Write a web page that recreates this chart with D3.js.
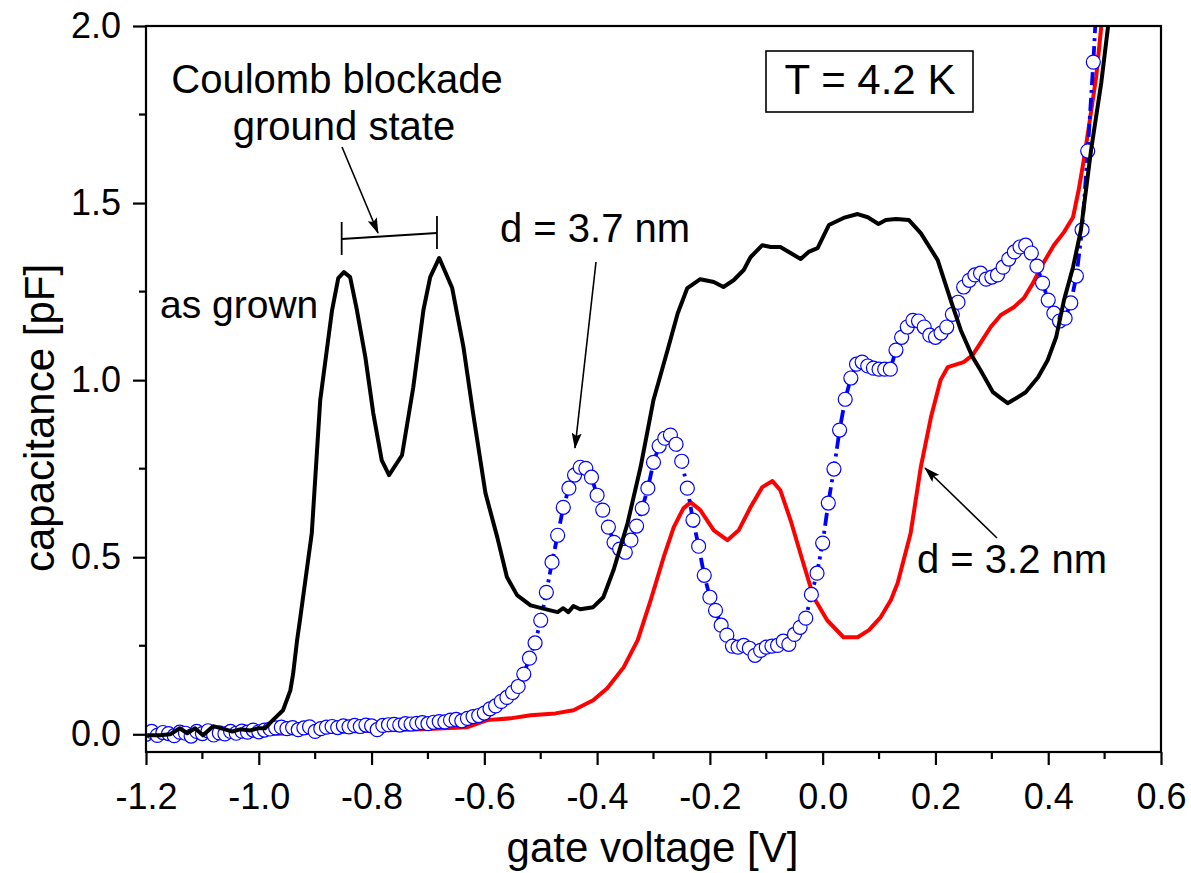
<!DOCTYPE html>
<html>
<head>
<meta charset="utf-8">
<script src="https://cdn.jsdelivr.net/npm/d3@7/dist/d3.min.js"></script>
<style>
  html, body { margin: 0; padding: 0; background: #fff; }
  svg { display: block; }
  text { font-family: "Liberation Sans", Arial, sans-serif; fill: #000; }
</style>
</head>
<body>
<svg id="chart" width="1191" height="873"></svg>
<script>
// ---- as grown sample (black) ----
const grownVoltage = [
  -1.198, -1.175, -1.157, -1.140, -1.127, -1.113, -1.099, -1.081, -1.060, -1.047,
  -1.033, -1.015, -1.001, -0.989, -0.975, -0.957, -0.944, -0.939, -0.932, -0.927,
  -0.906, -0.891, -0.870, -0.859, -0.849, -0.838, -0.826, -0.811, -0.797, -0.782,
  -0.769, -0.746, -0.726, -0.708, -0.696, -0.680, -0.657, -0.637, -0.620, -0.598,
  -0.577, -0.560, -0.542, -0.518, -0.483, -0.470, -0.460, -0.451, -0.442, -0.430,
  -0.407, -0.389, -0.371, -0.346, -0.323, -0.300, -0.275, -0.257, -0.240, -0.217,
  -0.193, -0.176, -0.158, -0.140, -0.128, -0.107, -0.092, -0.075, -0.057, -0.039,
  -0.025, -0.009, 0.011, 0.037, 0.062, 0.080, 0.099, 0.112, 0.130, 0.153,
  0.174, 0.204, 0.227, 0.245, 0.266, 0.280, 0.302, 0.316, 0.328, 0.343,
  0.360, 0.382, 0.399, 0.414, 0.428, 0.444, 0.458, 0.476, 0.494, 0.506, 0.515
];
const grownCap = [
  -0.003, -0.003, 0.000, 0.017, 0.003, 0.017, -0.003, 0.023, 0.014, 0.008,
  0.014, 0.011, 0.017, 0.017, 0.040, 0.068, 0.124, 0.172, 0.266, 0.322,
  0.568, 0.944, 1.198, 1.288, 1.305, 1.291, 1.198, 1.065, 0.907, 0.774,
  0.732, 0.788, 0.980, 1.198, 1.291, 1.345, 1.260, 1.093, 0.907, 0.681,
  0.556, 0.444, 0.393, 0.364, 0.350, 0.345, 0.356, 0.345, 0.362, 0.353,
  0.359, 0.387, 0.463, 0.596, 0.754, 0.944, 1.085, 1.189, 1.260, 1.285,
  1.277, 1.263, 1.282, 1.311, 1.347, 1.381, 1.376, 1.376, 1.359, 1.342,
  1.362, 1.373, 1.438, 1.458, 1.469, 1.460, 1.441, 1.452, 1.455, 1.452,
  1.415, 1.339, 1.226, 1.141, 1.065, 1.028, 0.966, 0.949, 0.935, 0.949,
  0.966, 1.008, 1.056, 1.121, 1.226, 1.319, 1.424, 1.650, 1.839, 1.997, 2.100
];

// ---- d = 3.2 nm (red) ----
const d32Voltage = [
  -1.200, -1.100, -1.000, -0.950, -0.900, -0.800, -0.700, -0.630, -0.595, -0.554,
  -0.518, -0.474, -0.442, -0.407, -0.382, -0.353, -0.328, -0.305, -0.282, -0.264,
  -0.247, -0.234, -0.217, -0.193, -0.169, -0.149, -0.128, -0.107, -0.089, -0.075,
  -0.057, -0.036, -0.016, 0.008, 0.037, 0.062, 0.082, 0.103, 0.121, 0.133,
  0.156, 0.174, 0.192, 0.209, 0.222, 0.250, 0.266, 0.280, 0.298, 0.316,
  0.339, 0.357, 0.373, 0.387, 0.410, 0.428, 0.444, 0.454, 0.463, 0.472,
  0.485, 0.494, 0.500
];
const d32Cap = [
  0.000, 0.000, 0.000, 0.002, 0.005, 0.010, 0.015, 0.020, 0.040, 0.045,
  0.054, 0.059, 0.068, 0.096, 0.130, 0.189, 0.266, 0.379, 0.500, 0.585,
  0.638, 0.655, 0.633, 0.576, 0.548, 0.576, 0.641, 0.698, 0.715, 0.689,
  0.605, 0.492, 0.387, 0.322, 0.274, 0.274, 0.294, 0.331, 0.379, 0.427,
  0.568, 0.754, 0.895, 1.000, 1.037, 1.051, 1.071, 1.105, 1.150, 1.184,
  1.206, 1.232, 1.274, 1.319, 1.381, 1.418, 1.460, 1.537, 1.621, 1.715,
  1.856, 1.997, 2.100
];

// ---- d = 3.7 nm (blue, open circles) ----
const d37Voltage = [
  -1.20, -1.19, -1.18, -1.17, -1.16, -1.15, -1.14, -1.13, -1.12, -1.11,
  -1.10, -1.09, -1.08, -1.07, -1.06, -1.05, -1.04, -1.03, -1.02, -1.01,
  -1.00, -0.99, -0.98, -0.97, -0.96, -0.95, -0.94, -0.93, -0.92, -0.91,
  -0.90, -0.89, -0.88, -0.87, -0.86, -0.85, -0.84, -0.83, -0.82, -0.81,
  -0.80, -0.79, -0.78, -0.77, -0.76, -0.75, -0.74, -0.73, -0.72, -0.71,
  -0.70, -0.69, -0.68, -0.67, -0.66, -0.65, -0.64, -0.63, -0.62, -0.61,
  -0.60, -0.59, -0.58, -0.57, -0.56, -0.55, -0.54, -0.53, -0.52, -0.51,
  -0.50, -0.49, -0.48, -0.47, -0.46, -0.45, -0.44, -0.43, -0.42, -0.41,
  -0.40, -0.39, -0.38, -0.37, -0.36, -0.35, -0.34, -0.33, -0.32, -0.31,
  -0.30, -0.29, -0.28, -0.27, -0.26, -0.25, -0.24, -0.23, -0.22, -0.21,
  -0.20, -0.19, -0.18, -0.17, -0.16, -0.15, -0.14, -0.13, -0.12, -0.11,
  -0.10, -0.09, -0.08, -0.07, -0.06, -0.05, -0.04, -0.03, -0.02, -0.01,
  0.00, 0.01, 0.02, 0.03, 0.04, 0.05, 0.06, 0.07, 0.08, 0.09,
  0.10, 0.11, 0.12, 0.13, 0.14, 0.15, 0.16, 0.17, 0.18, 0.19,
  0.20, 0.21, 0.22, 0.23, 0.24, 0.25, 0.26, 0.27, 0.28, 0.29,
  0.30, 0.31, 0.32, 0.33, 0.34, 0.35, 0.36, 0.37, 0.38, 0.39,
  0.40, 0.41, 0.42, 0.43, 0.44, 0.45, 0.46, 0.47, 0.48, 0.49
];
const d37Cap = [
  0.000, 0.008, -0.003, 0.005, 0.002, -0.004, 0.006, 0.003, -0.005, 0.008,
  0.002, 0.010, -0.002, 0.004, 0.001, 0.008, 0.003, 0.009, 0.006, 0.012,
  0.007, 0.012, 0.015, 0.018, 0.020, 0.016, 0.019, 0.013, 0.018, 0.021,
  0.008, 0.016, 0.020, 0.022, 0.019, 0.024, 0.021, 0.025, 0.022, 0.026,
  0.024, 0.013, 0.025, 0.027, 0.028, 0.026, 0.030, 0.029, 0.031, 0.033,
  0.030, 0.034, 0.036, 0.035, 0.040, 0.042, 0.038, 0.045, 0.050, 0.053,
  0.060, 0.072, 0.080, 0.093, 0.104, 0.118, 0.135, 0.170, 0.215, 0.258,
  0.322, 0.401, 0.486, 0.562, 0.641, 0.695, 0.732, 0.754, 0.751, 0.726,
  0.675, 0.633, 0.585, 0.542, 0.523, 0.514, 0.548, 0.588, 0.638, 0.695,
  0.768, 0.814, 0.836, 0.845, 0.819, 0.771, 0.695, 0.605, 0.531, 0.449,
  0.387, 0.350, 0.308, 0.280, 0.249, 0.246, 0.251, 0.243, 0.223, 0.237,
  0.246, 0.249, 0.251, 0.263, 0.254, 0.282, 0.302, 0.328, 0.395, 0.455,
  0.540, 0.653, 0.749, 0.859, 0.946, 1.006, 1.045, 1.051, 1.040, 1.034,
  1.031, 1.031, 1.031, 1.085, 1.121, 1.150, 1.169, 1.167, 1.150, 1.127,
  1.121, 1.133, 1.150, 1.186, 1.220, 1.263, 1.282, 1.297, 1.302, 1.285,
  1.291, 1.297, 1.319, 1.342, 1.362, 1.376, 1.381, 1.359, 1.322, 1.274,
  1.226, 1.189, 1.167, 1.175, 1.218, 1.294, 1.424, 1.647, 1.898, 2.200
];

// ---- axes ----
const xMajorTicks = [-1.2, -1.0, -0.8, -0.6, -0.4, -0.2, 0.0, 0.2, 0.4, 0.6];
const xMinorTicks = [-1.1, -0.9, -0.7, -0.5, -0.3, -0.1, 0.1, 0.3, 0.5];
const yMajorTicks = [0.0, 0.5, 1.0, 1.5, 2.0];
const yMinorTicks = [0.25, 0.75, 1.25, 1.75];

(function draw() {
  const svg = d3.select("#chart");
  const plotL = 146, plotR = 1161, plotT = 26, plotB = 752;

  const x = d3.scaleLinear().domain([-1.2, 0.6]).range([plotL, plotR]);
  const y = d3.scaleLinear().domain([-0.05, 2.0]).range([plotB, plotT]);

  const defs = svg.append("defs");
  defs.append("clipPath").attr("id", "plotArea")
    .append("rect").attr("x", plotL).attr("y", plotT)
    .attr("width", plotR - plotL).attr("height", plotB - plotT);

  defs.append("marker")
    .attr("id", "arrowHead")
    .attr("viewBox", "0 0 16 10")
    .attr("refX", 15).attr("refY", 5)
    .attr("markerWidth", 16).attr("markerHeight", 10)
    .attr("markerUnits", "userSpaceOnUse")
    .attr("orient", "auto")
    .append("path").attr("d", "M0,0 L16,5 L0,10 L3,5 Z").attr("fill", "#000");

  const plot = svg.append("g").attr("clip-path", "url(#plotArea)");
  const line = d3.line().x(d => x(d[0])).y(d => y(d[1]));

  const red = d32Voltage.map((v, i) => [v, d32Cap[i]]);
  const blue = d37Voltage.map((v, i) => [v, d37Cap[i]]);
  const black = grownVoltage.map((v, i) => [v, grownCap[i]]);

  plot.append("path").datum(red)
    .attr("d", line).attr("fill", "none")
    .attr("stroke", "#ff0000").attr("stroke-width", 4)
    .attr("stroke-linejoin", "round");

  plot.append("path").datum(blue)
    .attr("d", line).attr("fill", "none")
    .attr("stroke", "#0000ff").attr("stroke-width", 3.8)
    .attr("stroke-dasharray", "13,5,3,5");

  plot.append("g").selectAll("circle").data(blue).join("circle")
    .attr("cx", d => x(d[0])).attr("cy", d => y(d[1]))
    .attr("r", 7)
    .attr("fill", "#fff").attr("stroke", "#0000ff").attr("stroke-width", 1.2);

  plot.append("path").datum(black)
    .attr("d", line).attr("fill", "none")
    .attr("stroke", "#000").attr("stroke-width", 4)
    .attr("stroke-linejoin", "round");

  // frame
  svg.append("rect").attr("x", plotL).attr("y", plotT)
    .attr("width", plotR - plotL).attr("height", plotB - plotT)
    .attr("fill", "none").attr("stroke", "#000").attr("stroke-width", 2.2);

  // bottom axis
  const xAxis = svg.append("g").attr("transform", `translate(0,${plotB})`)
    .call(d3.axisBottom(x).tickValues(xMajorTicks).tickSize(13).tickPadding(18));
  xAxis.append("g").selectAll("line").data(xMinorTicks).join("line")
    .attr("x1", d => x(d)).attr("x2", d => x(d)).attr("y1", 0).attr("y2", 7);

  // left axis
  const yAxis = svg.append("g").attr("transform", `translate(${plotL},0)`)
    .call(d3.axisLeft(y).tickValues(yMajorTicks).tickSize(13).tickPadding(12));
  yAxis.append("g").selectAll("line").data(yMinorTicks).join("line")
    .attr("x1", 0).attr("x2", -7).attr("y1", d => y(d)).attr("y2", d => y(d));

  const fmt = d => d3.format(".1f")(d).replace("\u2212", "-");
  [xAxis, yAxis].forEach(a => {
    a.select(".domain").remove();
    a.selectAll("line").attr("stroke", "#000").attr("stroke-width", 2.2);
    a.selectAll(".tick text").text(fmt)
      .attr("font-size", 36).attr("font-family", "Liberation Sans, Arial, sans-serif")
      .attr("fill", "#000");
  });

  // axis titles
  svg.append("text").attr("x", (plotL + plotR) / 2 - 1).attr("y", 862)
    .attr("text-anchor", "middle").attr("font-size", 42)
    .text("gate voltage [V]");
  svg.append("text")
    .attr("transform", "translate(54,418) rotate(-90)")
    .attr("text-anchor", "middle").attr("font-size", 42)
    .text("capacitance [pF]");

  // annotations
  svg.append("text").attr("x", 337).attr("y", 93).attr("text-anchor", "middle")
    .attr("font-size", 40).text("Coulomb blockade");
  svg.append("text").attr("x", 344).attr("y", 140).attr("text-anchor", "middle")
    .attr("font-size", 40).text("ground state");
  svg.append("text").attr("x", 160).attr("y", 318).attr("font-size", 39).text("as grown");
  svg.append("text").attr("x", 500).attr("y", 242).attr("font-size", 40).text("d = 3.7 nm");
  svg.append("text").attr("x", 917).attr("y", 573).attr("font-size", 40).text("d = 3.2 nm");

  svg.append("rect").attr("x", 766).attr("y", 51).attr("width", 207).attr("height", 61)
    .attr("fill", "#fff").attr("stroke", "#000").attr("stroke-width", 1.6);
  svg.append("text").attr("x", 870).attr("y", 94).attr("text-anchor", "middle")
    .attr("font-size", 42).text("T = 4.2 K");

  // Coulomb blockade bracket spanning the two peaks
  const ann = svg.append("g").attr("stroke", "#000").attr("stroke-width", 1.8).attr("fill", "none");
  ann.append("line").attr("x1", x(-0.853)).attr("y1", 239).attr("x2", x(-0.684)).attr("y2", 233);
  ann.append("line").attr("x1", x(-0.853)).attr("y1", 222).attr("x2", x(-0.853)).attr("y2", 255);
  ann.append("line").attr("x1", x(-0.684)).attr("y1", 216).attr("x2", x(-0.684)).attr("y2", 249);

  const arrows = [
    [342, 147, 378, 233],
    [596, 262, 575, 448],
    [997, 538, 925, 468]
  ];
  ann.selectAll("line.arrow").data(arrows).join("line").attr("class", "arrow")
    .attr("x1", d => d[0]).attr("y1", d => d[1])
    .attr("x2", d => d[2]).attr("y2", d => d[3])
    .attr("stroke-width", 1.6)
    .attr("marker-end", "url(#arrowHead)");
})();
</script>
</body>
</html>
